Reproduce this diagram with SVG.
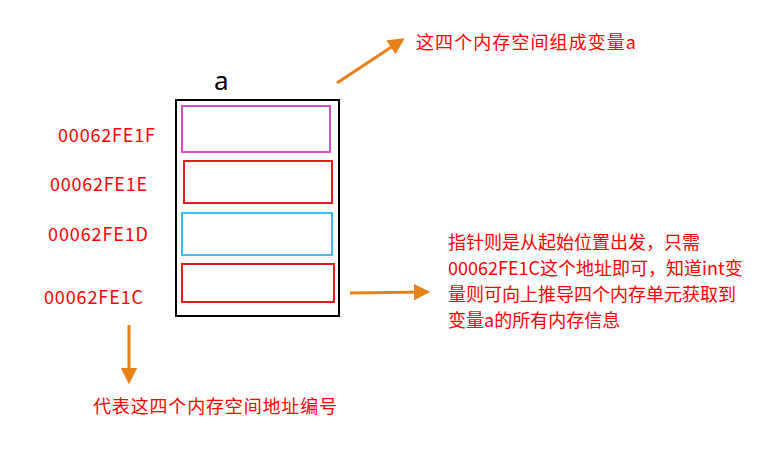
<svg xmlns="http://www.w3.org/2000/svg" width="764" height="460" viewBox="0 0 764 460">
<style>
.t{font-family:"Noto Sans CJK SC","Noto Sans",sans-serif;font-size:18px;fill:#f00}
.c{fill:none;stroke-width:2}
.a{stroke:#e8801a;stroke-width:3;fill:none}
</style>
<defs><marker id="m" viewBox="0 0 10 10" refX="8" refY="5" markerWidth="5.5" markerHeight="5.5" orient="auto"><path d="M0,0L10,5L0,10z" fill="#e8801a"/></marker></defs>
<rect width="764" height="460" fill="#fff"/>
<g id="var"><rect x="176" y="100" width="163" height="216" fill="none" stroke="#000" stroke-width="2"/>
<text x="214" y="90" font-family="Noto Sans,sans-serif" font-size="26">a</text></g>
<g id="c1"><rect class="c" x="182" y="106" width="148" height="46" stroke="#d64fc4"/><text class="t" x="58" y="142" textLength="97">00062FE1F</text></g>
<g id="c2"><rect class="c" x="184" y="161" width="148" height="42" stroke="#e31c1c"/><text class="t" x="50" y="191" textLength="97">00062FE1E</text></g>
<g id="c3"><rect class="c" x="182" y="213" width="150" height="42" stroke="#3cbfee"/><text class="t" x="48" y="241" textLength="100">00062FE1D</text></g>
<g id="c4"><rect class="c" x="182" y="264" width="152" height="38" stroke="#e31c1c"/><text class="t" x="44" y="304" textLength="99">00062FE1C</text></g>
<g id="n1"><text class="t" x="416" y="49" textLength="220">这四个内存空间组成变量a</text></g>
<g id="n2"><text class="t" x="448" y="249">指针则是从起始位置出发，只需</text><text class="t" x="448" y="275">00062FE1C这个地址即可，知道int变</text><text class="t" x="448" y="301">量则可向上推导四个内存单元获取到</text><text class="t" x="448" y="327">变量a的所有内存信息</text></g>
<g id="n3"><text class="t" x="93" y="413" textLength="244">代表这四个内存空间地址编号</text></g>
<g id="connectors">
<line class="a" x1="337" y1="83" x2="402" y2="40" marker-end="url(#m)"/>
<line class="a" x1="350" y1="293" x2="427" y2="292" marker-end="url(#m)"/>
<line class="a" x1="129" y1="325" x2="129" y2="381" marker-end="url(#m)"/>
</g>
</svg>
